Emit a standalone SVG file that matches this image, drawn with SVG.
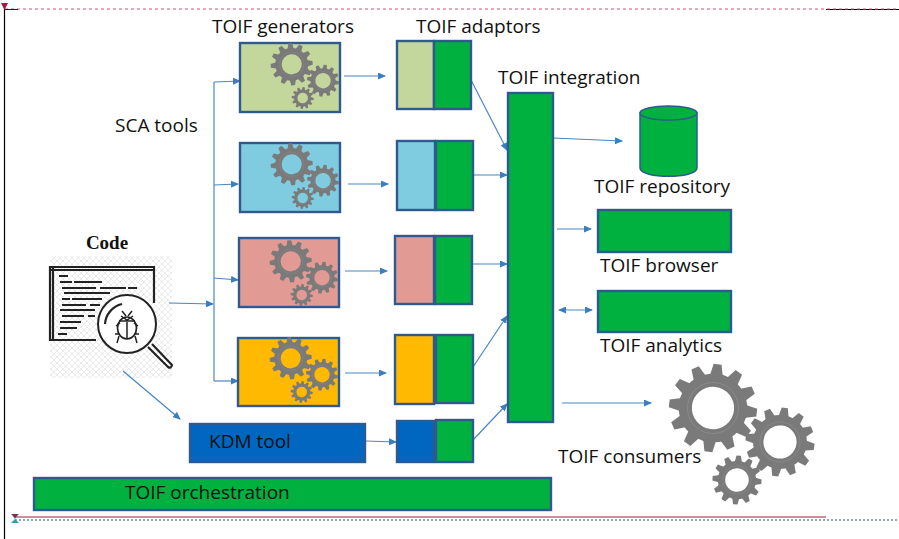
<svg xmlns="http://www.w3.org/2000/svg" xmlns:xlink="http://www.w3.org/1999/xlink" width="899" height="539" viewBox="0 0 899 539">
<style>
.t{font-family:"Open Sans","Noto Sans",sans-serif;font-size:19px;fill:#111}
.b{stroke:#2f5a8f;stroke-width:2.4}
.g{fill:#00b140}
.c{fill:none;stroke:#4a86c6;stroke-width:1.2;marker-end:url(#a)}
.l{fill:none;stroke:#4a86c6;stroke-width:1.2}
.k{fill:none;stroke:#222;stroke-width:2.2}
.gr{fill:none;stroke:#7a7a7a}
.th{fill:#7a7a7a}
</style>
<defs>
<marker id="a" markerWidth="8" markerHeight="7" refX="7" refY="3.500" orient="auto" markerUnits="userSpaceOnUse"><path d="M0 0L8 3.500L0 7Z" fill="#3b7dbf"/></marker>
<marker id="as" markerWidth="8" markerHeight="7" refX="1" refY="3.500" orient="auto" markerUnits="userSpaceOnUse"><path d="M8 0L0 3.500L8 7Z" fill="#3b7dbf"/></marker>
<pattern id="h" width="6" height="6" patternUnits="userSpaceOnUse"><path d="M0 0L6 6M6 0L0 6" stroke="#eaeaea" stroke-width="1"/></pattern>
<path id="tooth" class="th" d="M-15 -72L-9 -100L9 -100L15 -72Z"/>
<g id="gear">
<circle class="gr" r="63" stroke-width="30"/>
<circle r="58" fill="none" stroke="#8c8c8c" stroke-width="2"/>
<use href="#tooth"/>
<use href="#tooth" transform="rotate(30)"/>
<use href="#tooth" transform="rotate(60)"/>
<use href="#tooth" transform="rotate(90)"/>
<use href="#tooth" transform="rotate(120)"/>
<use href="#tooth" transform="rotate(150)"/>
<use href="#tooth" transform="rotate(180)"/>
<use href="#tooth" transform="rotate(210)"/>
<use href="#tooth" transform="rotate(240)"/>
<use href="#tooth" transform="rotate(270)"/>
<use href="#tooth" transform="rotate(300)"/>
<use href="#tooth" transform="rotate(330)"/>
</g>
<g id="gears">
<use href="#gear" transform="translate(291.7 64.3) rotate(-4) scale(.21)"/>
<use href="#gear" transform="translate(323 80.7) rotate(8) scale(.16)"/>
<use href="#gear" transform="translate(302.7 98) rotate(5) scale(.11)"/>
</g>
</defs>
<g id="frame">
<path d="M4.500 9V539" stroke="#000" stroke-width="1.2" fill="none"/>
<path d="M826 9.500H899" stroke="#000" stroke-width="1.200" fill="none"/>
<path d="M5 9H899" stroke="#d0567c" stroke-width="1.200" stroke-dasharray="3 3" fill="none"/>
<path d="M5 9.500H18" stroke="#222" stroke-width="1" fill="none"/>
<path d="M1 3H8L4.500 10Z" fill="#b5123f"/>
<path d="M15 517H826" stroke="#a01c34" stroke-width="1.2" fill="none"/>
<path d="M15 520H899" stroke="#6f8aa5" stroke-width="1.4" stroke-dasharray="2 2" fill="none"/>
<path d="M11 514H19L15 519L19 523H11L15 519Z" fill="#25a5a5"/>
<path d="M12 514H18L15 518Z" fill="#b5123f"/>
</g>
<g id="code">
<rect x="50" y="256" width="122" height="122" fill="url(#h)"/>
<text x="107" y="249" text-anchor="middle" font-family="Liberation Serif,serif" font-weight="bold" font-size="19" fill="#111">Code</text>
<path class="k" d="M96 340H50V267H154V303M50 270H154M53 267V340"/>
<path d="M59 276H68M60 282H72M74 282H102M62 288H96M100 288H126M128 288H137M64 293H110M62 299H70M72 299H102M62 305H86M90 305H100M60 310H95M62 316H84M88 316H95M60 322H81M60 328H77M58 334H67" stroke="#222" stroke-width="1.800" fill="none"/>
<circle cx="127" cy="324" r="29" fill="#fff" stroke="#222" stroke-width="2"/>
<path class="k" d="M105 324A22 22 0 0 1 122 304M148 347L168 367Q171 369 172 365L152 344"/>
<ellipse cx="127" cy="328" rx="9.500" ry="11" fill="none" stroke="#222" stroke-width="1.700"/>
<path d="M119 321H135M127 322V339M121 316L127 320L133 316M116 326L120 323M138 326L134 323M115 334H119M139 334H135M117 343L119 336M137 343L135 336M122 311L126 316M132 311L128 316" stroke="#222" stroke-width="1.500" fill="none"/>
</g>
<g id="connectors">
<path class="l" d="M214 82V381"/>
<path class="c" d="M169 303L213 304"/>
<path class="c" d="M214 82L240 81"/>
<path class="c" d="M214 185L238 184"/>
<path class="c" d="M214 278L238 280"/>
<path class="c" d="M214 381L238 381"/>
<path class="c" d="M123 371L180 419"/>
<path class="c" d="M344 76H385"/>
<path class="c" d="M348 184H388"/>
<path class="c" d="M345 271H387"/>
<path class="c" d="M345 373L386 373"/>
<path class="c" d="M366 441L396 442"/>
<path class="c" d="M471 80L507 150"/>
<path class="c" d="M473 175H507"/>
<path class="c" d="M472 264H507"/>
<path class="c" d="M473 367L507 316"/>
<path class="c" d="M473 440L507 404"/>
<path class="c" d="M553 138L622 141"/>
<path class="c" d="M557 229H591"/>
<path class="c" d="M559 310H592" marker-start="url(#as)"/>
<path class="c" d="M562 403H651"/>
</g>
<g id="gen1"><rect class="b" x="240" y="43" width="100" height="69" fill="#c3d69b"/><use href="#gears"/></g>
<g id="gen2"><rect class="b" x="240" y="143" width="100" height="69" fill="#7fcce0"/><use href="#gears" transform="translate(0 100)"/></g>
<g id="gen3"><rect class="b" x="239" y="238" width="100" height="69" fill="#e19a94"/><use href="#gears" transform="translate(-1 197)"/></g>
<g id="gen4"><rect class="b" x="238" y="338" width="101" height="68" fill="#ffb900"/><use href="#gears" transform="translate(-1 294)"/></g>
<g id="ad1"><rect class="b" x="397" y="41" width="37" height="68" fill="#c3d69b"/><rect class="b g" x="434" y="41" width="37" height="68"/></g>
<g id="ad2"><rect class="b" x="397" y="141" width="38" height="69" fill="#7fcce0"/><rect class="b g" x="436" y="141" width="37" height="69"/></g>
<g id="ad3"><rect class="b" x="395" y="236" width="39" height="68" fill="#e19a94"/><rect class="b g" x="435" y="236" width="37" height="68"/></g>
<g id="ad4"><rect class="b" x="395" y="335" width="39" height="69" fill="#ffb900"/><rect class="b g" x="436" y="335" width="37" height="68"/></g>
<g id="ad5"><rect class="b" x="397" y="421" width="37" height="41" fill="#0066c0"/><rect class="b g" x="436" y="420" width="37" height="42"/></g>
<g id="kdm"><rect class="b" x="190" y="424" width="175" height="38" fill="#0066c0"/><text class="t" x="209" y="448">KDM tool</text></g>
<g id="integration"><rect class="b g" x="508" y="93" width="45" height="329"/></g>
<g id="orchestration"><rect class="b g" x="34" y="478" width="517" height="32"/><text class="t" x="125" y="499">TOIF orchestration</text></g>
<g id="repository"><path class="g" stroke="#2f5a8f" stroke-width="1.500" d="M640 113V168C640 179 697 179 697 168V113Z"/><ellipse class="g" stroke="#2f5a8f" stroke-width="1.500" cx="668.500" cy="113" rx="28.500" ry="7"/></g>
<g id="browser"><rect class="b g" x="598" y="210" width="133" height="42"/></g>
<g id="analytics"><rect class="b g" x="598" y="291" width="133" height="41"/></g>
<g id="consumers">
<use href="#gear" transform="translate(713 408) rotate(6) scale(.44)"/>
<use href="#gear" transform="translate(780 442) rotate(8) scale(.345)"/>
<use href="#gear" transform="translate(737 480) rotate(4) scale(.245)"/>
</g>
<g id="labels">
<text class="t" x="212" y="33">TOIF generators</text>
<text class="t" x="416" y="33">TOIF adaptors</text>
<text class="t" x="498" y="84">TOIF integration</text>
<text class="t" x="115" y="132">SCA tools</text>
<text class="t" x="594" y="193">TOIF repository</text>
<text class="t" x="600" y="272">TOIF browser</text>
<text class="t" x="600" y="352">TOIF analytics</text>
<text class="t" x="558" y="463">TOIF consumers</text>
</g>
</svg>
